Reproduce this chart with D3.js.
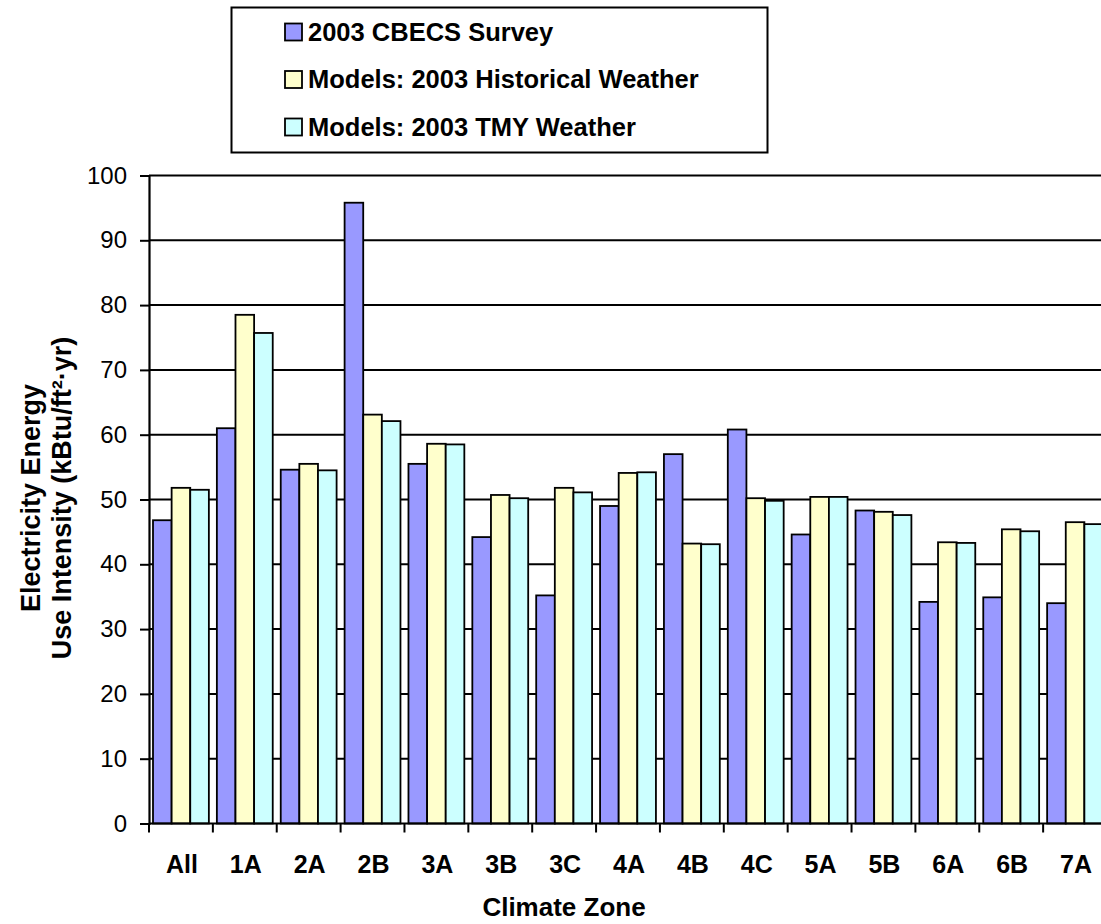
<!DOCTYPE html>
<html>
<head>
<meta charset="utf-8">
<script src="https://cdn.jsdelivr.net/npm/d3@7"></script>
<style>
  body { margin: 0; background: #fff; }
  svg { display: block; font-family: Arial, "Liberation Sans", sans-serif; }
</style>
</head>
<body>
<svg id="chart" width="1101" height="924"></svg>
<script>
// Climate zones and electricity EUI (kBtu/ft²·yr)
const zones = ["All", "1A", "2A", "2B", "3A", "3B", "3C", "4A", "4B", "4C", "5A", "5B", "6A", "6B", "7A"];
const seriesNames = ["2003 CBECS Survey", "Models: 2003 Historical Weather", "Models: 2003 TMY Weather"];
const cbecs      = [46.8, 61.0, 54.6, 95.8, 55.5, 44.2, 35.2, 49.0, 57.0, 60.8, 44.6, 48.3, 34.2, 34.9, 34.0];
const historical = [51.8, 78.5, 55.5, 63.1, 58.6, 50.7, 51.8, 54.1, 43.2, 50.2, 50.4, 48.1, 43.4, 45.4, 46.5];
const tmy        = [51.5, 75.7, 54.5, 62.1, 58.5, 50.2, 51.1, 54.2, 43.1, 49.8, 50.4, 47.6, 43.3, 45.1, 46.2];
const colors = ["#9999FF", "#FFFFCC", "#CCFFFF"];
const yTicks = [0, 10, 20, 30, 40, 50, 60, 70, 80, 90, 100];

const svg = d3.select("#chart");
const plotLeft = 149, plotRight = 1107, plotTop = 175.5, plotBottom = 823.5;

const x0 = d3.scaleBand().domain(zones).range([plotLeft, plotRight]);
const x1 = d3.scaleBand().domain(d3.range(3)).range([4, x0.bandwidth() - 4]);
const y = d3.scaleLinear().domain([0, 100]).range([plotBottom, plotTop]);

// gridlines
svg.append("g").selectAll("line").data(yTicks.filter(d => d > 0)).join("line")
  .attr("x1", plotLeft).attr("x2", plotRight)
  .attr("y1", d => y(d)).attr("y2", d => y(d))
  .attr("stroke", "#000").attr("stroke-width", 2);

// bars
const allSeries = [cbecs, historical, tmy];
const groups = svg.append("g").selectAll("g").data(zones).join("g")
  .attr("transform", d => `translate(${x0(d)},0)`);
groups.selectAll("rect").data((d, i) => allSeries.map((s, k) => ({ k, v: s[i] }))).join("rect")
  .attr("x", d => x1(d.k))
  .attr("width", x1.bandwidth())
  .attr("y", d => y(d.v))
  .attr("height", d => plotBottom - y(d.v))
  .attr("fill", d => colors[d.k])
  .attr("stroke", "#000").attr("stroke-width", 1.8);

// y axis
const yAxis = svg.append("g").attr("transform", `translate(${plotLeft},0)`)
  .call(d3.axisLeft(y).tickValues(yTicks).tickSize(9).tickPadding(13).tickFormat(d3.format("d")));
yAxis.select(".domain").attr("stroke-width", 2.2);
yAxis.selectAll(".tick line").attr("stroke-width", 2);
yAxis.selectAll("text").attr("font-size", 24).attr("fill", "#000")
  .attr("font-family", "Arial, 'Liberation Sans', sans-serif");

// x axis: category labels with ticks at group boundaries
svg.append("line").attr("x1", plotLeft).attr("x2", plotRight).attr("y1", plotBottom).attr("y2", plotBottom)
  .attr("stroke", "#000").attr("stroke-width", 2.2);
const bounds = zones.map(z => x0(z));
svg.append("g").selectAll("line").data(bounds).join("line")
  .attr("x1", d => d).attr("x2", d => d).attr("y1", plotBottom).attr("y2", plotBottom + 9)
  .attr("stroke", "#000").attr("stroke-width", 2);
svg.append("g").selectAll("text").data(zones).join("text")
  .attr("x", d => x0(d) + x0.bandwidth() / 2 + 1)
  .attr("y", 873)
  .attr("text-anchor", "middle")
  .attr("font-size", 25).attr("font-weight", "bold")
  .text(d => d);

// axis titles
svg.append("text").attr("x", 564).attr("y", 916).attr("text-anchor", "middle")
  .attr("font-size", 26).attr("font-weight", "bold").text("Climate Zone");
const yt = svg.append("text").attr("transform", "translate(0,498) rotate(-90)")
  .attr("text-anchor", "middle").attr("font-size", 27).attr("font-weight", "bold");
yt.append("tspan").attr("x", 0).attr("y", 40).text("Electricity Energy");
yt.append("tspan").attr("x", 0).attr("y", 71).text("Use Intensity (kBtu/ft²·yr)");

// legend
const lg = svg.append("g");
lg.append("rect").attr("x", 231.5).attr("y", 7.5).attr("width", 536).attr("height", 145)
  .attr("fill", "#fff").attr("stroke", "#000").attr("stroke-width", 2);
const rows = lg.selectAll("g").data(seriesNames).join("g")
  .attr("transform", (d, i) => `translate(0,${32 + i * 47.5})`);
rows.append("rect").attr("x", 285).attr("y", -8.5).attr("width", 17).attr("height", 17)
  .attr("fill", (d, i) => colors[i]).attr("stroke", "#000").attr("stroke-width", 1.8);
rows.append("text").attr("x", 308).attr("y", 8.5)
  .attr("font-size", 25.5).attr("font-weight", "bold").text(d => d);
</script>
</body>
</html>
